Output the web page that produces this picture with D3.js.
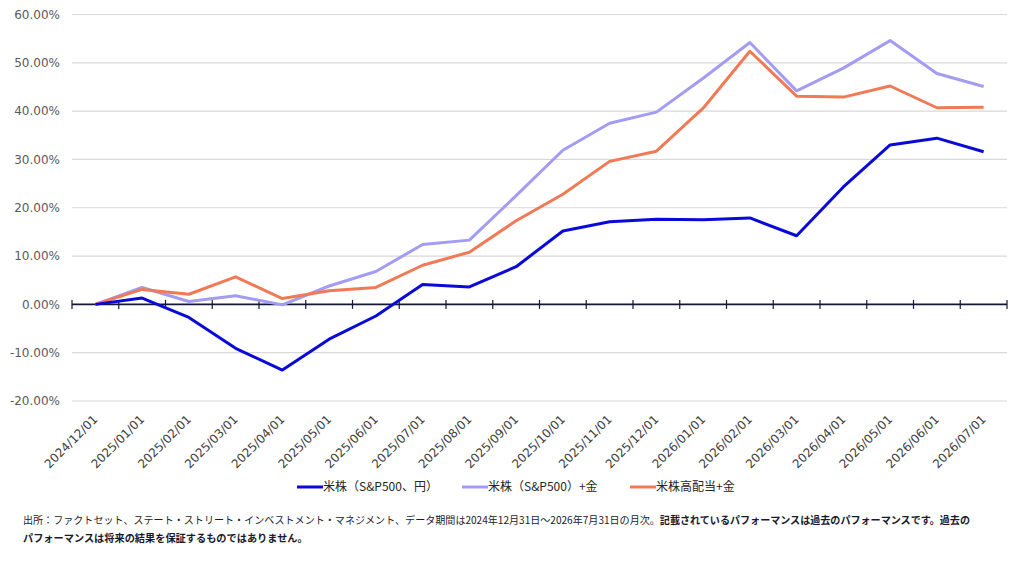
<!DOCTYPE html>
<html><head><meta charset="utf-8">
<script src="https://cdn.jsdelivr.net/npm/d3@7"></script>
<style>
body{margin:0;background:#fff;}
svg{display:block;}
</style></head>
<body>
<svg id="c" width="1022" height="561"></svg>
<script>
const categories = ["2024/12/01","2025/01/01","2025/02/01","2025/03/01","2025/04/01","2025/05/01","2025/06/01","2025/07/01","2025/08/01","2025/09/01","2025/10/01","2025/11/01","2025/12/01","2026/01/01","2026/02/01","2026/03/01","2026/04/01","2026/05/01","2026/06/01","2026/07/01"];
const sp500Yen = [0, 1.3, -2.7, -9.1, -13.6, -7.2, -2.4, 4.1, 3.6, 7.8, 15.2, 17.1, 17.6, 17.5, 17.9, 14.2, 24.3, 33.0, 34.4, 31.6];
const sp500Gold = [0, 3.5, 0.6, 1.8, -0.1, 3.8, 6.8, 12.4, 13.3, 22.5, 31.9, 37.5, 39.8, 46.8, 54.2, 44.2, 48.9, 54.6, 47.8, 45.1];
const hiDivGold = [0, 3.1, 2.1, 5.7, 1.2, 2.8, 3.5, 8.1, 10.8, 17.3, 22.8, 29.6, 31.7, 40.6, 52.4, 43.1, 42.9, 45.2, 40.7, 40.8];
const seriesNames = ["米株（S&P500、円）", "米株（S&P500）+金", "米株高配当+金"];
const seriesColors = ["#0a0ad8", "#a29cf2", "#f07a55"];
const yTicks = [-20, -10, 0, 10, 20, 30, 40, 50, 60];
const noteNormal = "出所：ファクトセット、ステート・ストリート・インベストメント・マネジメント、データ期間は2024年12月31日～2026年7月31日の月次。";
const noteBold1 = "記載されているパフォーマンスは過去のパフォーマンスです。過去の";
const noteBold2 = "パフォーマンスは将来の結果を保証するものではありません。";

(function(){
const series = [sp500Yen, sp500Gold, hiDivGold];
const svg = d3.select("#c");
const pL = 72, pR = 1007, pT = 14.5, pB = 401;
const x = d3.scaleBand().domain(categories).range([pL, pR]);
const y = d3.scaleLinear().domain([-20, 60]).range([pB, pT]);
const font = "'DejaVu Sans', Verdana, sans-serif";
const jfont = "'Noto Sans CJK JP', sans-serif";

svg.append("g").selectAll("line").data(yTicks.filter(d => d !== 0)).join("line")
  .attr("x1", pL).attr("x2", pR)
  .attr("y1", d => y(d)).attr("y2", d => y(d))
  .attr("stroke", "#d9d9d9").attr("stroke-width", 1.2);

svg.append("g").selectAll("text").data(yTicks).join("text")
  .attr("x", 60).attr("y", d => y(d)).attr("dy", "0.36em")
  .attr("text-anchor", "end").attr("font-family", font).attr("font-size", 12)
  .attr("fill", "#595959").text(d => d.toFixed(2) + "%");

const bounds = categories.map(c => x(c)).concat([pR]);
svg.append("line").attr("x1", pL).attr("x2", pR).attr("y1", y(0)).attr("y2", y(0))
  .attr("stroke", "#16163a").attr("stroke-width", 1.6);
svg.append("g").selectAll("line").data(bounds).join("line")
  .attr("x1", d => d).attr("x2", d => d).attr("y1", y(0) - 4.5).attr("y2", y(0) + 4.5)
  .attr("stroke", "#16163a").attr("stroke-width", 1.2);

svg.append("g").selectAll("text").data(categories).join("text")
  .attr("transform", d => `translate(${x(d) + x.bandwidth() / 2 + 3},${420}) rotate(-45)`)
  .attr("text-anchor", "end").attr("font-family", font).attr("font-size", 12)
  .attr("fill", "#404040").text(d => d);

const line = d3.line().x((d, i) => x(categories[i]) + x.bandwidth() / 2).y(d => y(d));
[1, 2, 0].forEach(k => {
  svg.append("path").datum(series[k]).attr("d", line)
    .attr("fill", "none").attr("stroke", seriesColors[k]).attr("stroke-width", 3)
    .attr("stroke-linejoin", "round");
});

const legendX = [297, 462, 630];
const lg = svg.append("g");
seriesNames.forEach((n, k) => {
  lg.append("line").attr("x1", legendX[k]).attr("x2", legendX[k] + 26)
    .attr("y1", 487).attr("y2", 487).attr("stroke", seriesColors[k]).attr("stroke-width", 3);
  lg.append("text").attr("x", legendX[k] + 26).attr("y", 487).attr("dy", "0.36em")
    .attr("font-family", jfont).attr("font-size", 12).attr("fill", "#262626").text(n);
});

const f1 = svg.append("text").attr("x", 23).attr("y", 524)
  .attr("font-family", jfont).attr("font-size", 10.2).attr("fill", "#1a1a2e")
  .attr("textLength", 947).attr("lengthAdjust", "spacingAndGlyphs");
f1.append("tspan").text(noteNormal);
f1.append("tspan").attr("font-weight", "bold").text(noteBold1);
svg.append("text").attr("x", 23).attr("y", 542)
  .attr("font-family", jfont).attr("font-size", 10.2).attr("font-weight", "bold")
  .attr("fill", "#1a1a2e").text(noteBold2);
})();
</script>
</body></html>
